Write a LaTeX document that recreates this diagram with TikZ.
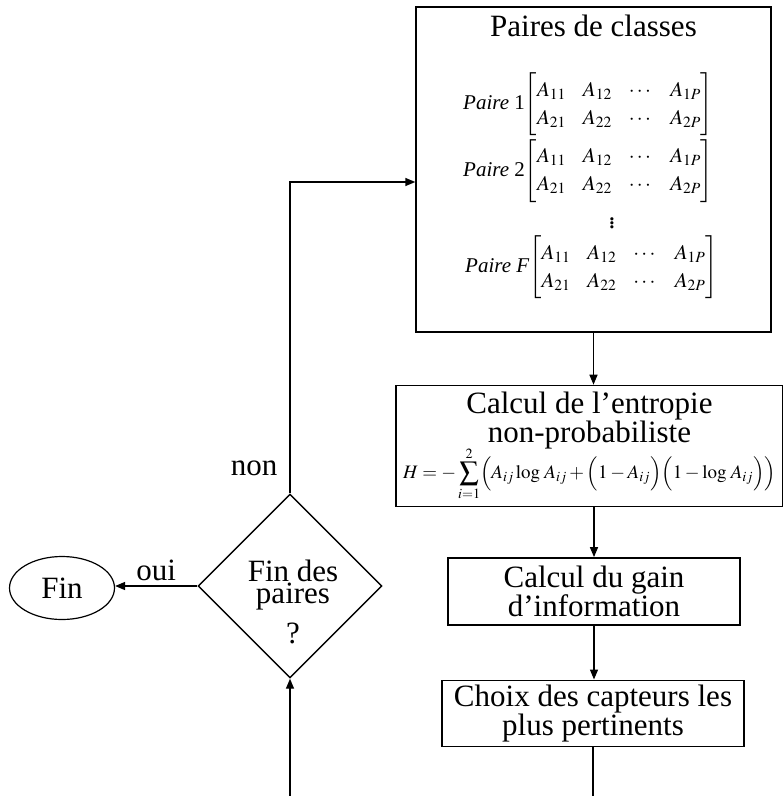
\documentclass[tikz,border=0pt]{standalone}
\usepackage{amsmath}
\usepackage{mathptmx}
\usepackage[no-math]{fontspec}
\setmainfont{Liberation Serif}
\usepackage{tikz}
\usetikzlibrary{
  arrows.meta,
  shapes.geometric,
  positioning
}
\setlength{\arraycolsep}{8.5pt}
\renewcommand{\arraystretch}{1.12}
\tikzset{
  boite/.style={
    draw, line width=1.4pt, align=center, inner sep=0pt,
    font=\fontsize{31}{25}\selectfont
  },
  decision/.style={draw, diamond, line width=1.4pt, minimum width=184pt, minimum height=184pt, inner sep=0pt},
  terminal/.style={draw, ellipse, line width=1.2pt, minimum width=105pt, minimum height=63pt, inner sep=0pt,
    font=\fontsize{31}{25}\selectfont},
  flow/.style={-{Triangle[length=10pt, width=8pt]}, line width=1.4pt},
  netline/.style={line width=1.4pt},
  tag/.style={font=\fontsize{31}{25}\selectfont, inner sep=0pt},
  paire/.style={font=\fontsize{21}{25}\selectfont, inner sep=0pt, anchor=west}
}

\begin{document}
\begin{tikzpicture}[x=1pt, y=-1pt, node distance=52pt]
  \useasboundingbox (0,0) rectangle (783,796);
  % boites du traitement
  \node[boite, minimum width=355pt, minimum height=325pt] (classes) at (593.5,169.5) {};
  \node[tag, anchor=base] (titre) at ([yshift=-30pt]classes.north) {Paires de classes};
  \node[paire] (paire1) at (463,104.5) {\textit{Paire}~1$\begin{bmatrix} A_{11} & A_{12} & \cdots & A_{1P}\\ A_{21} & A_{22} & \cdots & A_{2P}\end{bmatrix}$};
  \node[paire] (paire2) at (463,171) {\textit{Paire}~2$\begin{bmatrix} A_{11} & A_{12} & \cdots & A_{1P}\\ A_{21} & A_{22} & \cdots & A_{2P}\end{bmatrix}$};
  \node[paire, anchor=center, font=\fontsize{27}{27}\selectfont] (points) at (612,220) {$\vdots$};
  \node[paire] (paireF) at (465,267.5) {\textit{Paire F}$\begin{bmatrix} A_{11} & A_{12} & \cdots & A_{1P}\\ A_{21} & A_{22} & \cdots & A_{2P}\end{bmatrix}$};
  \node[boite, font=\fontsize{31}{21}\selectfont, minimum width=387pt, minimum height=121pt,
    below=52pt of classes, xshift=-4pt] (entropie)
    {Calcul de l’entropie\\non-probabiliste\\[-3pt]
     \fontsize{19}{21}\selectfont$\displaystyle H=-\sum_{i=1}^{2}\Bigl(A_{ij}\log\,A_{ij}+\Bigl(1-A_{ij}\Bigr)\Bigl(1-\log\,A_{ij}\Bigr)\Bigr)$};
  \node[boite, font=\fontsize{31}{26}\selectfont, minimum width=292pt, minimum height=67pt,
    below=50pt of entropie, xshift=4.5pt] (gain) {Calcul du gain\\d’information};
  \node[boite, minimum width=302pt, minimum height=66pt,
    below=54pt of gain, xshift=-1pt] (choix) {Choix des capteurs les\\plus pertinents};
  % test de fin
  \node[decision] (test) at (290,586) {};
  \node[tag, align=center, font=\fontsize{31}{22}\selectfont] (testtxt) at ([xshift=3pt, yshift=-16pt]test.center) {Fin des\\paires\\[11pt]?};
  \node[terminal] (fin) at (62,588) {Fin};
  \coordinate (bas1) at (choix.south |- 0,796);
  \coordinate (bas2) at (290,796);
  % liaisons
  \draw[flow] (classes.south) -- (classes.south |- entropie.north);
  \draw[flow] (gain.north |- entropie.south) -- (gain.north);
  \draw[flow] (gain.south) -- (gain.south |- choix.north);
  \draw[netline] (choix.south) -- (bas1);
  \draw[flow] (bas2) -- (test.south);
  \draw[flow] (test.west) -- node[tag, above=5pt]{oui} (test.west -| fin.east);
  \draw[flow] (test.north) |- node[tag, pos=0.04, left=12pt]{non} ([yshift=-12.5pt]classes.west);
\end{tikzpicture}
\end{document}
